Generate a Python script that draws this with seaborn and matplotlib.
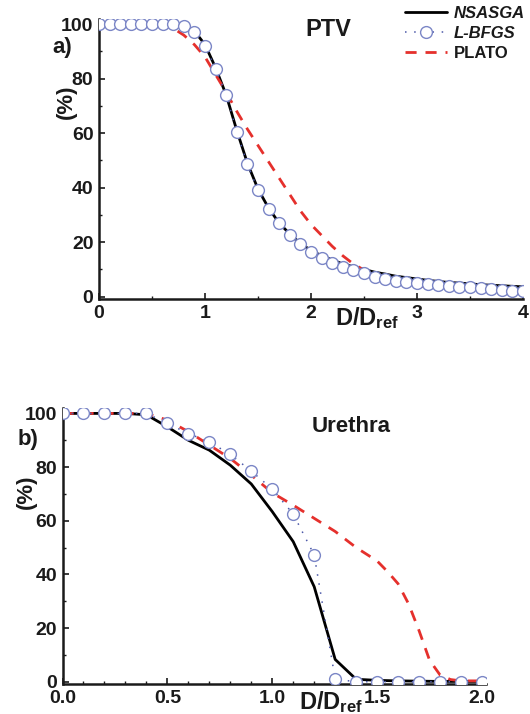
import numpy as np
import pandas as pd
import matplotlib
matplotlib.use("Agg")
import matplotlib.pyplot as plt
import seaborn as sns
from matplotlib.ticker import MultipleLocator

# ---- data: panel a) PTV ----
ptv_x = [0.0, 0.1, 0.2, 0.3, 0.4, 0.5, 0.6, 0.7, 0.8, 0.9, 1.0, 1.1, 1.2, 1.3, 1.4,
         1.5, 1.6, 1.7, 1.8, 1.9, 2.0, 2.1, 2.2, 2.3, 2.4, 2.5, 2.6, 2.7, 2.8, 2.9,
         3.0, 3.1, 3.2, 3.3, 3.4, 3.5, 3.6, 3.7, 3.8, 3.9, 4.0]
ptv_nsasga = [100, 100, 100, 100, 100, 100, 100, 100, 99.5, 97.5, 92.5, 84, 74, 61, 49,
              39.5, 32.5, 27, 23, 19.5, 17, 15, 13.5, 12, 11, 10, 9, 8.3, 7.5, 7,
              6.5, 6, 5.6, 5.2, 5, 4.7, 4.4, 4.2, 4, 3.8, 3.6]
ptv_lbfgs = [100, 100, 100, 100, 100, 100, 100, 100, 99.3, 97, 92, 83.7, 74, 60.5, 48.6,
             39.1, 32.1, 26.9, 22.6, 19.2, 16.5, 14.3, 12.5, 11, 9.8, 8.6, 7.3, 6.6, 5.9, 5.3,
             4.9, 4.5, 4.2, 3.9, 3.5, 3.4, 3.1, 2.8, 2.4, 2.2, 2.1]
ptv_plato = [100, 100, 100, 100, 100, 100, 99.8, 98.5, 96, 92.5, 88, 81.5, 75, 68, 61.5,
             55.5, 49.5, 43.5, 37.5, 31.5, 26.5, 22.5, 18.5, 15, 12, 9.8, 8.2, 6.3, 5, 4.2,
             3.9, 3.6, 3.4, 3.3, 3.1, 2.9, 2.7, 2.4, 2.2, 2.0, 1.8]

# ---- data: panel b) Urethra ----
ure_x = [0.0, 0.1, 0.2, 0.3, 0.4, 0.5, 0.6, 0.7, 0.8, 0.9, 1.0, 1.1, 1.2, 1.3, 1.4,
         1.5, 1.6, 1.7, 1.8, 1.9, 2.0]
ure_nsasga = [100, 100, 100, 100, 99.5, 95, 90, 86.3, 80.7, 73.7, 63.4, 52.2, 35.4, 8.3, 0.9,
              0.5, 0.3, 0.2, 0.1, 0.1, 0.1]
ure_lbfgs = [100, 100, 100, 100, 100, 96.3, 92.5, 89.4, 84.7, 78.5, 71.8, 62.5, 47.2, 0.9, 0,
             0, 0, 0, 0, 0, 0]
ure_plato_x = [0.0, 0.1, 0.2, 0.3, 0.4, 0.5, 0.6, 0.7, 0.8, 0.9, 1.0, 1.1, 1.2, 1.3, 1.4,
               1.5, 1.55, 1.6, 1.65, 1.7, 1.75, 1.8, 1.85, 1.9, 2.0]
ure_plato = [100, 100, 100, 100, 100, 97.5, 93.2, 88.2, 83.2, 77, 70.4, 65.8, 60.9, 56, 50,
             45, 41, 36.5, 29, 19, 8, 2.5, 0.8, 0.3, 0.3]

labels = ["NSASGA", "L-BFGS", "PLATO"]

sns.set_theme(style="ticks")
plt.rcParams['font.family'] = ['Liberation Sans', 'DejaVu Sans']
plt.rcParams['font.weight'] = 'bold'
plt.rcParams['mathtext.fontset'] = 'custom'
plt.rcParams['mathtext.rm'] = 'Liberation Sans:bold'
plt.rcParams['mathtext.it'] = 'Liberation Sans:bold:italic'
plt.rcParams['mathtext.bf'] = 'Liberation Sans:bold'

RED = "#e5302c"
CIRC = "#7b86c6"
DOT = "#4b58a8"
INK = "#1a1a1a"

W, H = 530, 714
fig = plt.figure(figsize=(W / 100, H / 100), dpi=100)
ax1 = fig.add_axes([99 / W, 0.5807, 424 / W, 0.393])
ax2 = fig.add_axes([62.5 / W, 0.0415, 423.7 / W, 0.387])


def draw(ax, x, y_ns, y_lb, x_pl, y_pl):
    sns.lineplot(x=x, y=y_ns, ax=ax, color="black", lw=2.0, sort=False,
                 label=labels[0], zorder=2)
    sns.lineplot(x=x_pl, y=y_pl, ax=ax, color=RED, lw=2.0, sort=False,
                 linestyle=(0, (4, 3.2)), label=labels[2], zorder=3)
    sns.lineplot(x=x, y=y_lb, ax=ax, color=DOT, lw=1.1, sort=False,
                 linestyle=(0, (1, 5)), marker="o", markersize=8.5,
                 markerfacecolor="white", markeredgecolor=CIRC,
                 markeredgewidth=1.0, label=labels[1], zorder=4)


draw(ax1, ptv_x, ptv_nsasga, ptv_lbfgs, ptv_x, ptv_plato)
draw(ax2, ure_x, ure_nsasga, ure_lbfgs, ure_plato_x, ure_plato)

ax1.set_xlim(0, 4)
ax2.set_xlim(0, 2.02)
for ax in (ax1, ax2):
    ax.set_ylim(-1, 102)
    ax.set_xlabel("")
    ax.set_ylabel("")
    sns.despine(ax=ax)
    ax.spines['left'].set_linewidth(1.8)
    ax.spines['bottom'].set_linewidth(1.8)
    ax.spines['left'].set_color(INK)
    ax.spines['bottom'].set_color(INK)
    ax.yaxis.set_major_locator(MultipleLocator(20))
    ax.yaxis.set_minor_locator(MultipleLocator(10))
    ax.tick_params(which="major", direction="in", length=4, width=1.2,
                   labelsize=14, pad=4, colors=INK)
    ax.tick_params(which="minor", direction="in", length=2.5, width=1.0, colors=INK)
    ax.get_legend().remove()

ax1.xaxis.set_major_locator(MultipleLocator(1))
ax1.xaxis.set_minor_locator(MultipleLocator(0.5))
ax2.xaxis.set_major_locator(MultipleLocator(0.5))
ax2.xaxis.set_minor_locator(MultipleLocator(0.1))
ax2.xaxis.set_major_formatter(matplotlib.ticker.FormatStrFormatter("%.1f"))


def fx(px):
    return px / W


def fy(py):
    return 1 - py / H


fig.text(fx(328), fy(29), "PTV", ha="center", va="center", fontsize=17, color=INK)
fig.text(fx(351), fy(426), "Urethra", ha="center", va="center", fontsize=16, color=INK)
fig.text(fx(62), fy(48), "a)", ha="center", va="center", fontsize=16, color=INK)
fig.text(fx(28), fy(440), "b)", ha="center", va="center", fontsize=16, color=INK)
fig.text(fx(66), fy(102), "(%)", ha="center", va="center", rotation=90, fontsize=16, color=INK)
fig.text(fx(26), fy(492), "(%)", ha="center", va="center", rotation=90, fontsize=16, color=INK)
fig.text(fx(335), fy(305), r"D/D$_{\mathrm{ref}}$", ha="left", va="top", fontsize=17, color=INK)
fig.text(fx(299), fy(689), r"D/D$_{\mathrm{ref}}$", ha="left", va="top", fontsize=17, color=INK)

# legend in panel a)
handles, _ = ax1.get_legend_handles_labels()
order = [0, 2, 1]
leg = fig.legend([handles[i] for i in order], labels, loc="upper left",
                 bbox_to_anchor=(fx(405), fy(6)), frameon=False, fontsize=12,
                 handlelength=2.5, handletextpad=0.42, labelspacing=0.3,
                 borderaxespad=0, borderpad=0)
for t, lab in zip(leg.get_texts(), labels):
    t.set_color(INK)
    if lab != "PLATO":
        t.set_fontstyle("italic")

fig.savefig("out.png", dpi=100)
